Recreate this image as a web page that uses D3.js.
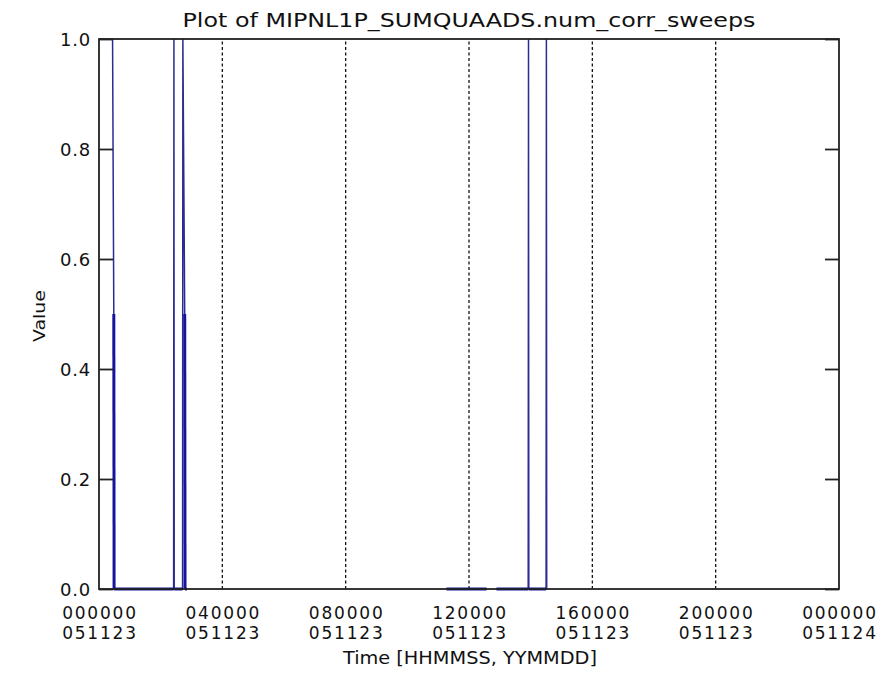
<!DOCTYPE html>
<html>
<head>
<meta charset="utf-8">
<script src="https://cdn.jsdelivr.net/npm/d3@7"></script>
<style>
  html, body { margin: 0; padding: 0; background: #fff; }
  svg { display: block; }
  text { font-family: "DejaVu Sans", sans-serif; fill: #111; }
</style>
</head>
<body>
<svg id="chart" width="889" height="687"></svg>
<script>
// ---- data (time in hours since 000000 051123, value) ----
const titleText = "Plot of MIPNL1P_SUMQUAADS.num_corr_sweeps";
const xTitle = "Time [HHMMSS, YYMMDD]";
const yTitle = "Value";
const xTickHours = [0, 4, 8, 12, 16, 20, 24];
const xTickTime = ["000000", "040000", "080000", "120000", "160000", "200000", "000000"];
const xTickDate = ["051123", "051123", "051123", "051123", "051123", "051123", "051124"];
const gridHours = [4, 8, 12, 16, 20];
const yTicks = [0.0, 0.2, 0.4, 0.6, 0.8, 1.0];
// null marks a gap in the series
const sampleTimes = [0.44, 0.48, 0.49, 2.42, 2.43, 2.44, 2.71, 2.72, 2.78, 2.79, 2.85, null,
                     11.27, 12.57, null,
                     12.89, 13.92, 13.93, 13.94, 14.50, 14.51, 14.52];
const sampleValues = [1.0, 0.5, 0.0, 0.0, 1.0, 0.0, 0.0, 1.0, 0.5, 0.0, 0.0, null,
                      0.0, 0.0, null,
                      0.0, 0.0, 1.0, 0.0, 0.0, 1.0, 0.0];

const svg = d3.select("#chart");
const m = { left: 99, right: 839, top: 39, bottom: 589 };
const x = d3.scaleLinear().domain([0, 24]).range([m.left, m.right]);
const y = d3.scaleLinear().domain([0, 1]).range([m.bottom, m.top]);

const pts = sampleTimes.map((t, i) => ({ t, v: sampleValues[i] }));

// dotted grid lines
svg.append("g").selectAll("line").data(gridHours).join("line")
  .attr("x1", d => x(d)).attr("x2", d => x(d))
  .attr("y1", m.bottom).attr("y2", m.top)
  .attr("stroke", "#111").attr("stroke-width", 1.3)
  .attr("stroke-dasharray", "3,2.5");

// series: thin line through all points
const line = d3.line().defined(d => d.t !== null).x(d => x(d.t)).y(d => y(d.v));
svg.append("path").datum(pts).attr("d", line)
  .attr("fill", "none").attr("stroke", "#2b2b92").attr("stroke-width", 1.5);

// dense (low-valued) runs drawn heavier
const dense = [];
for (let i = 0; i < pts.length - 1; i++) {
  const a = pts[i], b = pts[i + 1];
  if (a.t !== null && b.t !== null && a.v <= 0.5 && b.v <= 0.5) dense.push([a, b]);
}
svg.append("g").selectAll("path").data(dense).join("path")
  .attr("d", d => line(d))
  .attr("fill", "none").attr("stroke", "#14149c").attr("stroke-width", 3);

// frame
svg.append("rect").attr("x", m.left).attr("y", m.top)
  .attr("width", m.right - m.left).attr("height", m.bottom - m.top)
  .attr("fill", "none").attr("stroke", "#222").attr("stroke-width", 1.8);

// y axes (inward ticks, left and right)
const yAxisL = d3.axisRight(y).tickValues(yTicks).tickSize(14).tickFormat("");
const gL = svg.append("g").attr("transform", `translate(${m.left},0)`).call(yAxisL);
const yAxisR = d3.axisLeft(y).tickValues(yTicks).tickSize(14).tickFormat("");
const gR = svg.append("g").attr("transform", `translate(${m.right},0)`).call(yAxisR);
[gL, gR].forEach(g => {
  g.select(".domain").remove();
  g.selectAll(".tick line").attr("stroke", "#222").attr("stroke-width", 1.8);
});

// y tick labels
svg.append("g").selectAll("text").data(yTicks).join("text")
  .attr("x", 91).attr("y", d => y(d)).attr("dy", "0.38em")
  .attr("text-anchor", "end").attr("font-size", 18).attr("letter-spacing", 0.8)
  .text(d => d3.format(".1f")(d));

// x tick labels (two lines)
const xl = svg.append("g").selectAll("g").data(xTickHours).join("g");
xl.append("text").attr("x", d => x(d) + 1).attr("y", 618.5)
  .attr("text-anchor", "middle").attr("font-size", 17).attr("letter-spacing", 1.8)
  .text((d, i) => xTickTime[i]);
xl.append("text").attr("x", d => x(d) + 1).attr("y", 639)
  .attr("text-anchor", "middle").attr("font-size", 17).attr("letter-spacing", 1.8)
  .text((d, i) => xTickDate[i]);

// titles
svg.append("text").attr("x", (m.left + m.right) / 2).attr("y", 27)
  .attr("text-anchor", "middle").attr("font-size", 19)
  .attr("textLength", 573).attr("lengthAdjust", "spacingAndGlyphs")
  .text(titleText);
svg.append("text").attr("x", (m.left + m.right) / 2 + 1).attr("y", 664)
  .attr("text-anchor", "middle").attr("font-size", 17)
  .attr("textLength", 254).attr("lengthAdjust", "spacingAndGlyphs")
  .text(xTitle);
svg.append("text").attr("transform", "translate(45,316) rotate(-90)")
  .attr("text-anchor", "middle").attr("font-size", 15)
  .attr("textLength", 52).attr("lengthAdjust", "spacingAndGlyphs")
  .text(yTitle);
</script>
</body>
</html>
